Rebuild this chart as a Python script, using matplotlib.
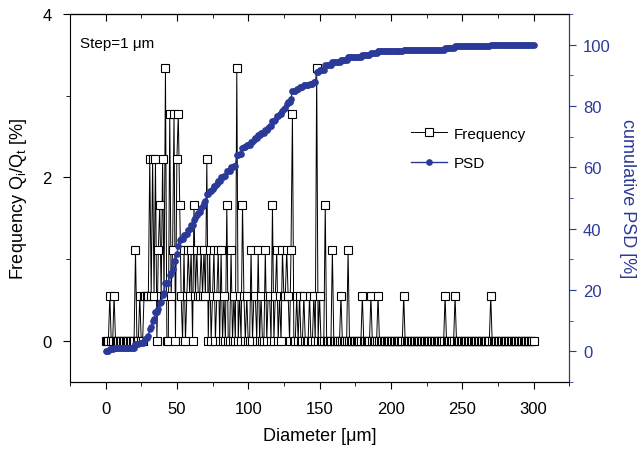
import numpy as np
import matplotlib
matplotlib.use('Agg')
import matplotlib.pyplot as plt
from matplotlib.ticker import MultipleLocator

plt.rcParams['font.family'] = ['Liberation Sans', 'DejaVu Sans']

# particle counts per 1 um class (only classes with particles listed)
diam_nz = [3, 6, 21, 24, 27,
           28, 29, 30, 31, 32, 33, 34, 35, 37, 38, 39, 40, 41,
           42, 45, 46, 47, 48, 50, 51,
           52, 53, 55, 57, 58, 59, 60, 62,
           63, 64, 65, 66, 67, 68, 69, 70, 71,
           73, 75, 76, 78, 79, 81, 83, 85, 88, 90, 92,
           94, 96, 97, 99, 102, 104, 105, 107, 109, 112, 114, 115, 117,
           119, 120, 122, 124, 125, 126, 127, 128, 130, 131,
           134, 136, 139, 143, 146, 148,
           150, 154, 159, 165, 170,
           180, 186, 191, 209, 238, 245, 270]
count_nz = [1, 1, 2, 1, 1,
            1, 1, 1, 4, 1, 4, 1, 4, 2, 3, 1, 4, 1,
            6, 5, 1, 2, 5, 4, 5,
            3, 1, 2, 1, 2, 1, 2, 3,
            1, 2, 1, 1, 2, 1, 2, 1, 4,
            2, 1, 2, 1, 2, 2, 1, 3, 2, 1, 6,
            1, 3, 1, 1, 2, 1, 1, 2, 1, 2, 1, 1, 3,
            1, 2, 1, 2, 1, 1, 2, 1, 2, 5,
            1, 1, 1, 1, 1, 6,
            1, 3, 2, 1, 2,
            1, 1, 1, 1, 1, 1, 1]

diam = np.arange(0, 301)
counts = np.zeros(len(diam))
counts[diam_nz] = count_nz
freq = counts / counts.sum() * 100
psd = np.cumsum(counts) / counts.sum() * 100

blue = '#2B3A98'

fig = plt.figure(figsize=(6.41, 4.52), dpi=100)
ax = fig.add_axes([0.109, 0.153, 0.779, 0.814])
ax2 = ax.twinx()

l1, = ax.plot(diam, freq, '-', color='black', lw=0.7, marker='s', ms=5.4,
              mfc='white', mec='black', mew=0.8, label='Frequency')
l2, = ax2.plot(diam, psd, '-', color=blue, lw=1.0, marker='o', ms=3.8,
               mfc=blue, mec=blue, label='PSD')

ax.set_xlim(-25, 325)
ax.set_ylim(-0.5, 4)
ax2.set_ylim(-10, 110)

ax.xaxis.set_major_locator(MultipleLocator(50))
ax.xaxis.set_minor_locator(MultipleLocator(25))
ax.yaxis.set_major_locator(MultipleLocator(2))
ax.yaxis.set_minor_locator(MultipleLocator(1))
ax2.yaxis.set_major_locator(MultipleLocator(20))
ax2.yaxis.set_minor_locator(MultipleLocator(10))

ax.tick_params(axis='x', which='both', direction='out', top=False, labelsize=12,
               pad=9)
ax.tick_params(axis='x', which='major', length=5)
ax.tick_params(axis='x', which='minor', length=3)
ax.tick_params(axis='y', which='major', direction='out', length=5, labelsize=12,
               pad=8)
ax.tick_params(axis='y', which='minor', direction='out', length=3)
ax2.tick_params(axis='y', which='major', direction='out', length=5, labelsize=12,
                colors=blue, pad=5)
ax2.tick_params(axis='y', which='minor', direction='out', length=3, colors=blue)

# top axis ticks pointing inwards
sec = ax.secondary_xaxis('top')
sec.xaxis.set_major_locator(MultipleLocator(50))
sec.xaxis.set_minor_locator(MultipleLocator(25))
sec.tick_params(which='both', direction='in', labeltop=False)
sec.tick_params(which='major', length=5)
sec.tick_params(which='minor', length=3)

ax2.spines['right'].set_color(blue)
ax2.spines['left'].set_visible(False)

ax.set_xlabel('Diameter [μm]', fontsize=13, labelpad=8)
ax.set_ylabel('Frequency Q$_\\mathregular{i}$/Q$_\\mathregular{t}$ [%]', fontsize=13,
              labelpad=10)
ax2.set_ylabel('cumulative PSD [%]', fontsize=13, color=blue, rotation=270,
               labelpad=18)

ax.text(0.02, 0.92, 'Step=1 μm', transform=ax.transAxes, fontsize=11,
        va='center', ha='left')

ax2.legend([l1, l2], ['Frequency', 'PSD'], loc='center left',
           bbox_to_anchor=(0.655, 0.635), frameon=False, fontsize=11,
           handlelength=2.4, handletextpad=0.4, labelspacing=1.0)

fig.savefig('out.png', dpi=100)
